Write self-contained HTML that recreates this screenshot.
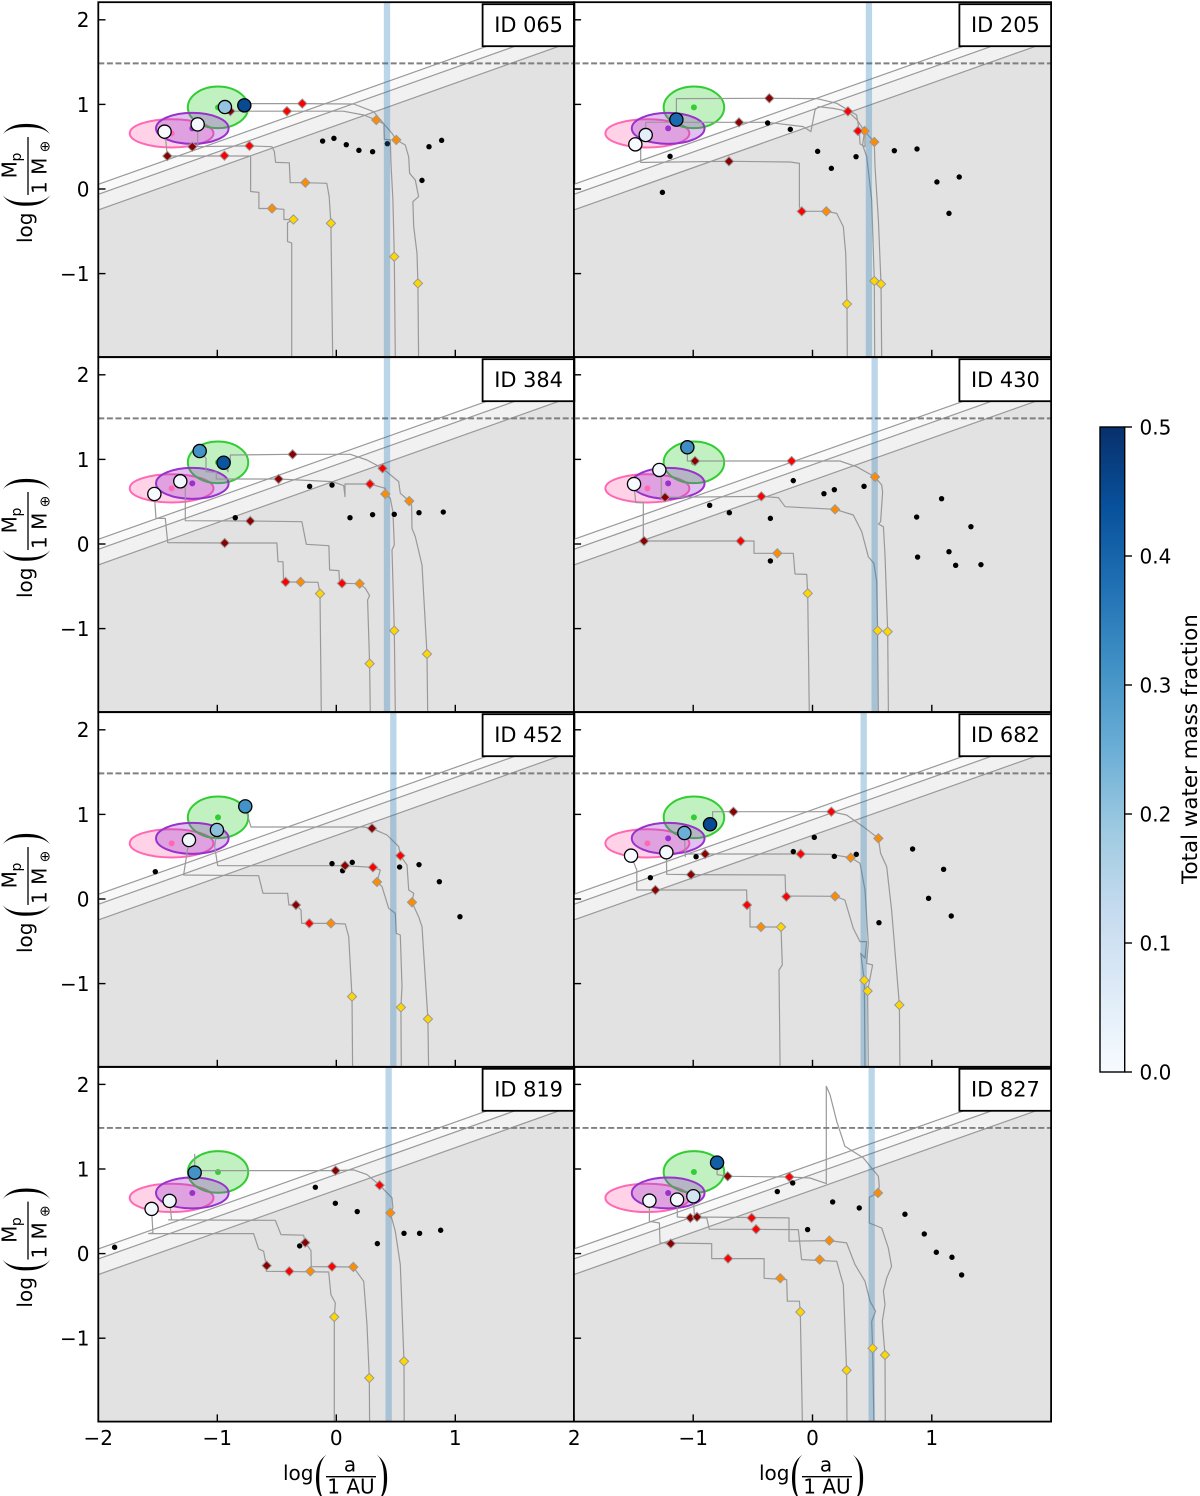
<!DOCTYPE html>
<html lang="en">
<head>
<meta charset="utf-8">
<title>Planet formation tracks</title>
<style>
html,body{margin:0;padding:0;background:#fff}
svg{display:block;font-family:"DejaVu Sans","Liberation Sans",sans-serif;fill:#000}
.paren{font-family:"Liberation Serif",serif;font-size:60px;stroke:#fff;stroke-width:2.4px}
</style>
</head>
<body>
<svg id="chart" xmlns="http://www.w3.org/2000/svg" width="1200" height="1496" viewBox="0 0 1200 1496">
<rect x="0" y="0" width="1200" height="1496" fill="#fff"/>
<g id="panels"></g>

<g transform="translate(28,189) rotate(-90)" font-size="20">
<text class="paren" x="-20.6" y="13">(</text><text class="paren" x="49" y="13">)</text><text x="-54" y="4">log</text><line x1="-6" x2="52" y1="0" y2="0" stroke="#000" stroke-width="1.3"/><text x="10.7" y="-11.3">M</text><text x="27.5" y="-7" font-size="14">p</text><text x="-5" y="18.7">1 M</text><text x="36.5" y="21.5" font-size="14">⊕</text>
</g>
<g transform="translate(28,544) rotate(-90)" font-size="20">
<text class="paren" x="-20.6" y="13">(</text><text class="paren" x="49" y="13">)</text><text x="-54" y="4">log</text><line x1="-6" x2="52" y1="0" y2="0" stroke="#000" stroke-width="1.3"/><text x="10.7" y="-11.3">M</text><text x="27.5" y="-7" font-size="14">p</text><text x="-5" y="18.7">1 M</text><text x="36.5" y="21.5" font-size="14">⊕</text>
</g>
<g transform="translate(28,899) rotate(-90)" font-size="20">
<text class="paren" x="-20.6" y="13">(</text><text class="paren" x="49" y="13">)</text><text x="-54" y="4">log</text><line x1="-6" x2="52" y1="0" y2="0" stroke="#000" stroke-width="1.3"/><text x="10.7" y="-11.3">M</text><text x="27.5" y="-7" font-size="14">p</text><text x="-5" y="18.7">1 M</text><text x="36.5" y="21.5" font-size="14">⊕</text>
</g>
<g transform="translate(28,1253.6) rotate(-90)" font-size="20">
<text class="paren" x="-20.6" y="13">(</text><text class="paren" x="49" y="13">)</text><text x="-54" y="4">log</text><line x1="-6" x2="52" y1="0" y2="0" stroke="#000" stroke-width="1.3"/><text x="10.7" y="-11.3">M</text><text x="27.5" y="-7" font-size="14">p</text><text x="-5" y="18.7">1 M</text><text x="36.5" y="21.5" font-size="14">⊕</text>
</g>

<g font-size="20">
<text class="paren" x="312.1" y="1493">(</text><text class="paren" x="371" y="1493">)</text><text x="283" y="1480">log</text><text x="350" y="1471.7" text-anchor="middle">a</text><line x1="326" x2="376" y1="1476.7" y2="1476.7" stroke="#000" stroke-width="1.3"/><text x="351" y="1493.3" text-anchor="middle">1 AU</text>
</g>
<g font-size="20" transform="translate(476,0)">
<text class="paren" x="312.1" y="1493">(</text><text class="paren" x="371" y="1493">)</text><text x="283" y="1480">log</text><text x="350" y="1471.7" text-anchor="middle">a</text><line x1="326" x2="376" y1="1476.7" y2="1476.7" stroke="#000" stroke-width="1.3"/><text x="351" y="1493.3" text-anchor="middle">1 AU</text>
</g>

<g id="colorbar"></g>
<text transform="translate(1197,749) rotate(-90)" text-anchor="middle" font-size="21.4">Total water mass fraction</text>
</svg>

<script>
// ---------- shared data ----------
const panelIds = ['ID 065','ID 205','ID 384','ID 430','ID 452','ID 682','ID 819','ID 827'];
const iceLines = [0.426,0.473,0.426,0.521,0.479,0.429,0.44,0.496];
const xTickValues = [-2,-1,0,1,2];
const yTickValues = [-1,0,1,2];
const colorbarTicks = [0,0.1,0.2,0.3,0.4,0.5];
const limitSlope = 0.5;
const limitIntercepts = [1.055,0.937,0.752];
const gasLimitMass = 1.485;
const regionNames = ['pink-region','green-region','purple-region'];
const regionCenterA = [-1.384,-0.994,-1.21];
const regionCenterM = [0.658,0.965,0.717];
const regionSemiA = [0.352,0.2535,0.305];
const regionSemiM = [0.167,0.246,0.183];
const blues = ['#f7fbff','#deebf7','#c6dbef','#9ecae1','#6baed6','#4292c6','#2171b5','#08519c','#08306b'];

// ---------- ID 065 ----------
const dots065 = [[-0.115,0.567],[-0.02,0.599],[0.084,0.524],[0.19,0.457],[0.305,0.441],[0.429,0.536],[0.779,0.5],[0.885,0.575],[0.72,0.102]];
const planets065 = [[-1.443,0.678,0],[-1.165,0.764,0.01],[-0.936,0.969,0.2],[-0.773,0.989,0.45]];
const tracks065 = [
 [[-1.44,0.68],[-1.42,0.39],[-0.94,0.39],[-0.72,0.39],[-0.72,-0.03],[-0.65,-0.04],[-0.65,-0.23],[-0.54,-0.23],[-0.44,-0.24],[-0.44,-0.36],[-0.36,-0.36],[-0.41,-0.4],[-0.41,-0.62],[-0.375,-0.64],[-0.375,-2]],
 [[-1.165,0.76],[-1.165,0.5],[-1.21,0.5],[-0.73,0.51],[-0.54,0.5],[-0.52,0.44],[-0.51,0.315],[-0.395,0.31],[-0.387,0.075],[-0.26,0.075],[-0.08,0.067],[-0.06,-0.09],[-0.045,-0.41],[-0.03,-2]],
 [[-0.936,0.97],[-0.93,0.92],[-0.415,0.92],[0.06,0.92],[0.23,0.875],[0.336,0.815],[0.4,0.77],[0.403,0.587],[0.454,0.58],[0.46,0.3],[0.476,-0.13],[0.487,-0.8],[0.496,-2]],
 [[-0.773,0.99],[-0.765,1.01],[-0.286,1.01],[0.146,1.005],[0.314,0.914],[0.4,0.77],[0.468,0.658],[0.504,0.58],[0.58,0.52],[0.608,0.38],[0.616,0.185],[0.664,0.106],[0.692,-0.09],[0.644,-0.15],[0.65,-0.445],[0.678,-0.76],[0.686,-1.115],[0.692,-2]]
];
const markers065 = [[-1.42,0.39,0],[-0.94,0.394,1],[-0.54,-0.23,2],[-0.36,-0.36,3],[-1.21,0.5,0],[-0.73,0.51,1],[-0.26,0.075,2],[-0.045,-0.405,3],[-0.89,0.92,0],[-0.415,0.92,1],[0.336,0.815,2],[0.487,-0.8,3],[-0.286,1.01,1],[0.504,0.58,2],[0.686,-1.115,3]];

// ---------- ID 205 ----------
const dots205 = [[-1.258,-0.04],[-1.194,0.386],[-0.376,0.78],[-0.186,0.705],[0.043,0.445],[0.158,0.244],[0.365,0.382],[0.686,0.453],[0.876,0.473],[1.043,0.083],[1.23,0.142],[1.144,-0.288]];
const planets205 = [[-1.485,0.528,0],[-1.398,0.638,0.05],[-1.141,0.82,0.39]];
const tracks205 = [
 [[-1.485,0.528],[-1.44,0.5],[-1.44,0.315],[-1.404,0.315],[-0.7,0.327],[-0.189,0.319],[-0.11,0.303],[-0.11,-0.21],[-0.09,-0.264],[0.116,-0.264],[0.203,-0.288],[0.258,-0.445],[0.278,-0.76],[0.289,-1.36],[0.292,-2]],
 [[-1.398,0.638],[-1.398,0.788],[-0.616,0.788],[-0.376,0.788],[-0.077,0.737],[-0.013,0.678],[0.021,0.934],[0.049,0.973],[0.175,0.953],[0.297,0.918],[0.37,0.823],[0.437,0.686],[0.42,0.52],[0.454,0.382],[0.496,-0.13],[0.518,-1.087],[0.521,-2]],
 [[-1.141,0.82],[-1.141,1.068],[-0.362,1.072],[0.035,1.068],[0.203,1.013],[0.37,0.875],[0.392,0.686],[0.398,0.532],[0.44,0.5],[0.44,0.678],[0.518,0.556],[0.524,0.264],[0.552,-0.366],[0.574,-1.123],[0.58,-2]]
];
const markers205 = [[-0.7,0.327,0],[-0.09,-0.264,1],[0.116,-0.264,2],[0.289,-1.36,3],[-0.616,0.788,0],[0.297,0.918,1],[0.437,0.686,2],[0.518,-1.087,3],[-0.362,1.072,0],[0.381,0.686,1],[0.518,0.556,2],[0.574,-1.123,3]];

// ---------- ID 384 ----------
const dots384 = [[-0.849,0.311],[-0.224,0.682],[-0.036,0.697],[0.115,0.311],[0.305,0.347],[0.487,0.351],[0.695,0.37],[0.899,0.378]];
const planets384 = [[-1.529,0.591,0],[-1.311,0.741,0.01],[-1.148,1.099,0.31],[-0.947,0.961,0.43]];
const tracks384 = [
 [[-1.529,0.591],[-1.515,0.303],[-1.437,0.303],[-1.417,0.016],[-0.938,0.012],[-0.499,0.012],[-0.49,-0.209],[-0.448,-0.209],[-0.443,-0.449],[-0.3,-0.449],[-0.154,-0.453],[-0.137,-0.587],[-0.126,-2]],
 [[-1.311,0.741],[-1.269,0.658],[-1.269,0.276],[-0.723,0.272],[-0.289,0.264],[-0.252,-0.004],[-0.062,-0.02],[-0.056,-0.307],[0.022,-0.315],[0.028,-0.465],[0.196,-0.469],[0.244,-0.524],[0.28,-0.61],[0.263,-0.662],[0.28,-1.414],[0.286,-2]],
 [[-1.148,1.099],[-1.095,1.013],[-1.095,0.855],[-1.008,0.847],[-1.008,0.768],[-0.485,0.768],[-0.036,0.737],[0.062,0.69],[0.073,0.56],[0.073,0.709],[0.283,0.709],[0.412,0.658],[0.412,0.591],[0.454,0.54],[0.476,0.382],[0.487,-0.012],[0.468,-0.07],[0.487,-1.024],[0.496,-2]],
 [[-0.947,0.961],[-0.91,0.855],[-0.91,0.961],[-0.891,0.961],[-0.891,1.052],[-0.367,1.06],[0.118,1.06],[0.258,0.993],[0.389,0.894],[0.524,0.737],[0.538,0.599],[0.613,0.508],[0.633,0.461],[0.636,0.185],[0.664,0.087],[0.72,-0.248],[0.762,-1.3],[0.768,-2]]
];
const markers384 = [[-0.938,0.012,0],[-0.426,-0.449,1],[-0.3,-0.449,2],[-0.137,-0.587,3],[-0.723,0.272,0],[0.048,-0.465,1],[0.196,-0.469,2],[0.28,-1.414,3],[-0.485,0.768,0],[0.283,0.709,1],[0.412,0.591,2],[0.487,-1.024,3],[-0.367,1.06,0],[0.389,0.894,1],[0.613,0.508,2],[0.762,-1.3,3]];

// ---------- ID 430 ----------
const dots430 = [[-0.862,0.457],[-0.697,0.37],[-0.353,0.303],[-0.353,-0.2],[-0.161,0.749],[0.096,0.595],[0.183,0.642],[0.432,0.682],[0.873,0.319],[1.082,0.536],[1.328,0.205],[0.881,-0.154],[1.144,-0.091],[1.2,-0.252],[1.412,-0.244]];
const planets430 = [[-1.496,0.709,0],[-1.284,0.875,0.01],[-1.049,1.143,0.32]];
const tracks430 = [
 [[-1.496,0.709],[-1.482,0.489],[-1.418,0.489],[-1.418,0.035],[-0.602,0.035],[-0.49,0.035],[-0.49,-0.11],[-0.161,-0.11],[-0.147,-0.355],[-0.049,-0.359],[-0.04,-0.583],[-0.027,-2]],
 [[-1.284,0.875],[-1.267,0.776],[-1.267,0.56],[-1.236,0.552],[-0.429,0.563],[-0.286,0.548],[-0.23,0.441],[0.189,0.41],[0.342,0.343],[0.412,0.146],[0.468,-0.15],[0.515,-0.229],[0.538,-0.445],[0.546,-1.024],[0.552,-2]],
 [[-1.049,1.143],[-1.049,0.981],[-0.985,0.981],[-0.175,0.981],[0.23,0.981],[0.37,0.914],[0.524,0.792],[0.58,0.697],[0.588,0.611],[0.571,0.264],[0.552,0.236],[0.594,0.205],[0.608,-0.13],[0.63,-1.036],[0.636,-2]]
];
const markers430 = [[-1.412,0.035,0],[-0.602,0.035,1],[-0.295,-0.11,2],[-0.04,-0.583,3],[-1.236,0.552,0],[-0.429,0.563,1],[0.189,0.41,2],[0.546,-1.024,3],[-0.985,0.981,0],[-0.175,0.981,1],[0.524,0.792,2],[0.63,-1.036,3]];

// ---------- ID 452 ----------
const dots452 = [[-1.521,0.323],[-0.036,0.418],[0.053,0.335],[0.134,0.433],[0.532,0.378],[0.695,0.406],[0.866,0.205],[1.039,-0.209]];
const planets452 = [[-1.238,0.697,0.02],[-1.003,0.816,0.21],[-0.765,1.095,0.31]];
const tracks452 = [
 [[-1.238,0.697],[-1.283,0.284],[-0.653,0.276],[-0.616,0.067],[-0.409,0.067],[-0.398,-0.071],[-0.339,-0.071],[-0.297,-0.13],[-0.291,-0.288],[-0.045,-0.288],[0.076,-0.296],[0.104,-0.445],[0.132,-1.154],[0.137,-2]],
 [[-1.003,0.816],[-1.022,0.619],[-0.997,0.394],[0.073,0.394],[0.308,0.374],[0.37,0.343],[0.342,0.201],[0.384,0.146],[0.44,-0.11],[0.496,-0.169],[0.504,-0.406],[0.538,-0.426],[0.552,-1.036],[0.543,-1.281],[0.546,-2]],
 [[-0.765,1.095],[-0.751,1.013],[-0.717,0.851],[0.23,0.851],[0.3,0.835],[0.426,0.757],[0.524,0.619],[0.538,0.512],[0.594,0.402],[0.608,0.106],[0.65,0.067],[0.636,-0.039],[0.692,-0.209],[0.72,-0.327],[0.77,-1.418],[0.776,-2]]
];
const markers452 = [[-0.339,-0.071,0],[-0.227,-0.288,1],[-0.045,-0.288,2],[0.132,-1.154,3],[0.073,0.394,0],[0.308,0.374,1],[0.342,0.201,2],[0.543,-1.281,3],[0.3,0.835,0],[0.538,0.512,1],[0.636,-0.039,2],[0.77,-1.418,3]];

// ---------- ID 682 ----------
const dots682 = [[-1.359,0.252],[-0.976,0.5],[-0.161,0.56],[0.015,0.729],[0.183,0.504],[0.367,0.528],[0.839,0.591],[1.099,0.351],[0.973,0.008],[1.163,-0.201],[0.557,-0.28]];
const planets682 = [[-1.521,0.512,0],[-1.225,0.552,0.01],[-1.074,0.78,0.25],[-0.859,0.883,0.45]];
const tracks682 = [
 [[-1.521,0.512],[-1.473,0.343],[-1.473,0.106],[-0.552,0.106],[-0.549,-0.071],[-0.524,-0.091],[-0.524,-0.331],[-0.264,-0.331],[-0.253,-0.78],[-0.281,-0.839],[-0.272,-2]],
 [[-1.225,0.552],[-1.222,0.292],[-1.018,0.288],[-0.23,0.284],[-0.225,0.035],[0.189,0.032],[0.272,-0.012],[0.342,-0.347],[0.398,-0.504],[0.454,-0.504],[0.44,-0.7],[0.404,-0.642],[0.434,-0.961],[0.44,-2]],
 [[-1.074,0.78],[-1.066,0.5],[-1.066,0.532],[-0.9,0.532],[-0.099,0.532],[0.147,0.528],[0.32,0.489],[0.398,0.422],[0.44,0.106],[0.468,-0.524],[0.454,-0.76],[0.504,-0.78],[0.462,-1.087],[0.468,-2]],
 [[-0.859,0.883],[-0.837,0.953],[-0.837,1.032],[-0.663,1.032],[0.158,1.032],[0.286,0.993],[0.426,0.855],[0.552,0.717],[0.571,0.54],[0.622,0.382],[0.663,-0.13],[0.728,-1.253],[0.733,-2]]
];
const markers682 = [[-1.317,0.106,0],[-0.549,-0.071,1],[-0.432,-0.331,2],[-0.264,-0.331,3],[-1.018,0.288,0],[-0.219,0.028,1],[0.189,0.032,2],[0.434,-0.961,3],[-0.9,0.532,0],[-0.099,0.532,1],[0.32,0.489,2],[0.462,-1.087,3],[-0.663,1.032,0],[0.158,1.032,1],[0.552,0.717,2],[0.728,-1.253,3]];

// ---------- ID 819 ----------
const dots819 = [[-1.863,0.075],[-0.308,0.091],[-0.176,0.784],[-0.008,0.595],[0.176,0.497],[0.345,0.118],[0.569,0.24],[0.7,0.24],[0.877,0.276]];
const planets819 = [[-1.552,0.528,0.01],[-1.401,0.623,0.02],[-1.19,0.957,0.31]];
const tracks819 = [
 [[-1.552,0.528],[-1.541,0.244],[-1.577,0.236],[-0.695,0.236],[-0.653,0.055],[-0.611,0.028],[-0.588,-0.142],[-0.588,-0.209],[-0.064,-0.217],[-0.045,-0.485],[-0.008,-0.583],[-0.017,-0.749],[-0.017,-2]],
 [[-1.401,0.623],[-1.384,0.398],[-1.409,0.398],[-0.513,0.394],[-0.465,0.225],[-0.275,0.217],[-0.261,0.13],[-0.213,0.035],[-0.21,-0.154],[0.143,-0.158],[0.23,-0.327],[0.258,-0.839],[0.277,-1.47],[0.28,-2]],
 [[-1.19,1.178],[-1.19,0.981],[-0.006,0.981],[0.146,0.989],[0.258,0.934],[0.364,0.808],[0.468,0.658],[0.476,0.54],[0.454,0.481],[0.496,0.264],[0.538,-0.13],[0.569,-1.273],[0.571,-2]]
];
const markers819 = [[-0.585,-0.142,0],[-0.395,-0.209,1],[-0.218,-0.209,2],[-0.017,-0.749,3],[-0.261,0.13,0],[-0.036,-0.154,1],[0.143,-0.158,2],[0.277,-1.47,3],[-0.006,0.981,0],[0.364,0.808,1],[0.454,0.481,2],[0.569,-1.273,3]];

// ---------- ID 827 ----------
const dots827 = [[-0.295,0.733],[-0.166,0.835],[0.169,0.611],[0.392,0.54],[0.775,0.465],[0.937,0.232],[1.038,0.016],[1.169,-0.043],[1.25,-0.252],[-0.041,0.284]];
const planets827 = [[-1.367,0.626,0.01],[-1.135,0.638,0.01],[-0.999,0.678,0.09],[-0.8,1.076,0.41]];
const tracks827 = [
 [[-1.367,0.626],[-1.367,0.382],[-1.283,0.362],[-1.278,0.126],[-0.845,0.118],[-0.845,-0.059],[-0.406,-0.059],[-0.406,-0.292],[-0.216,-0.307],[-0.211,-0.563],[-0.11,-0.563],[-0.102,-0.69],[-0.085,-2]],
 [[-1.135,0.638],[-1.133,0.433],[-1.024,0.422],[-0.887,0.422],[-0.865,0.288],[-0.119,0.284],[-0.091,-0.071],[0.203,-0.091],[0.258,-0.366],[0.286,-1.379],[0.289,-2]],
 [[-0.999,0.678],[-0.99,0.441],[-0.968,0.433],[-0.197,0.422],[-0.197,0.146],[0.141,0.154],[0.286,0.126],[0.356,-0.13],[0.44,-0.327],[0.482,-0.563],[0.529,-0.682],[0.496,-0.8],[0.504,-1.119],[0.515,-2]],
 [[-0.8,1.076],[-0.8,0.934],[-0.711,0.914],[-0.194,0.906],[-0.021,0.894],[0.116,0.827],[0.116,1.978],[0.147,1.88],[0.203,1.564],[0.272,1.269],[0.426,1.131],[0.552,0.914],[0.56,0.796],[0.549,0.717],[0.476,0.666],[0.476,0.362],[0.58,0.303],[0.635,0.067],[0.663,-0.15],[0.622,-0.288],[0.594,-0.445],[0.608,-0.603],[0.585,-0.8],[0.608,-1.198],[0.61,-2]]
];
const markers827 = [[-1.188,0.118,0],[-0.708,-0.059,1],[-0.27,-0.292,2],[-0.102,-0.69,3],[-1.024,0.422,0],[-0.473,0.288,1],[0.06,-0.071,2],[0.286,-1.379,3],[-0.968,0.433,0],[-0.51,0.422,1],[0.141,0.154,2],[0.504,-1.119,3],[-0.711,0.914,0],[-0.194,0.906,1],[0.549,0.717,2],[0.608,-1.198,3]];

const panelDots = [dots065,dots205,dots384,dots430,dots452,dots682,dots819,dots827];
const panelPlanets = [planets065,planets205,planets384,planets430,planets452,planets682,planets819,planets827];
const panelTracks = [tracks065,tracks205,tracks384,tracks430,tracks452,tracks682,tracks819,tracks827];
const panelMarkers = [markers065,markers205,markers384,markers430,markers452,markers682,markers819,markers827];

// ---------- axis functions ----------
const NS = 'http://www.w3.org/2000/svg';
const colZero = [336.3,812.5];
const colScale = [119,119.3];
const rowZero = [189,544,899,1253.6];
const yScaleFactor = 84.6;
function xAxis(col,a){ return colZero[col]+a*colScale[col]; }
function yAxis(row,m){ return rowZero[row]-m*yScaleFactor; }
function make(tag,attrs,parent){
  const e = document.createElementNS(NS,tag);
  for(const k in attrs){ e.setAttribute(k,attrs[k]); }
  parent.appendChild(e);
  return e;
}
function hexToRgb(h){ return [parseInt(h.slice(1,3),16),parseInt(h.slice(3,5),16),parseInt(h.slice(5,7),16)]; }
function waterColor(w){
  const t = Math.max(0,Math.min(1,w/0.5))*(blues.length-1);
  const i = Math.min(blues.length-2,Math.floor(t));
  const f = t-i;
  const p = hexToRgb(blues[i]);
  const q = hexToRgb(blues[i+1]);
  return 'rgb('+Math.round(p[0]+(q[0]-p[0])*f)+','+Math.round(p[1]+(q[1]-p[1])*f)+','+Math.round(p[2]+(q[2]-p[2])*f)+')';
}

const stageColors = ['#8b0000','#ff0000','#ff8c00','#ffd700'];
const stageNames = ['dark-red','red','orange','gold'];
const regionStrokes = ['#ff69b4','#32cd32','#9932cc'];
const regionOpacity = [0.3,0.3,0.3];
const shadeFills = ['#f9f9f9','#f1f1f1','#e2e2e2'];

const root = document.getElementById('panels');
const defs = make('defs',{},root);

panelIds.forEach(function(label,p){
  const col = p%2;
  const row = Math.floor(p/2);
  const left = xAxis(col,-2);
  const right = xAxis(col,2);
  const top = rowZero[row]-186.8;
  const bottom = rowZero[row]+168;
  const key = label.replace(/\D/g,'');

  const clip = make('clipPath',{id:'clip'+key},defs);
  make('rect',{x:left,y:top,width:right-left,height:bottom-top},clip);

  const g = make('g',{},root);
  
  
  const plot = make('g',{'clip-path':'url(#clip'+key+')'},g);
  
  

  // shaded exclusion regions beneath the three sloped limits
  limitIntercepts.forEach(function(c,i){
    const yl = yAxis(row,c+limitSlope*(-2));
    const yr = yAxis(row,c+limitSlope*2);
    const shade = make('polygon',{points:left+','+yl+' '+right+','+yr+' '+right+','+bottom+' '+left+','+bottom,fill:shadeFills[i]},plot);
    
    
  });
  limitIntercepts.forEach(function(c,i){
    const line = make('line',{x1:left,y1:yAxis(row,c+limitSlope*(-2)),x2:right,y2:yAxis(row,c+limitSlope*2),stroke:'#999',"stroke-width":1.2},plot);
    
    
  });

  // population regions
  regionNames.forEach(function(n,i){
    const ell = make('ellipse',{cx:xAxis(col,regionCenterA[i]),cy:yAxis(row,regionCenterM[i]),rx:regionSemiA[i]*colScale[col],ry:regionSemiM[i]*yScaleFactor,fill:regionStrokes[i],'fill-opacity':regionOpacity[i],stroke:regionStrokes[i],'stroke-width':2},plot);
    
    
  });
  regionNames.forEach(function(n,i){
    const c = make('circle',{cx:xAxis(col,regionCenterA[i]),cy:yAxis(row,regionCenterM[i]),r:3,fill:regionStrokes[i]},plot);
    
    
  });

  // formation tracks
  panelTracks[p].forEach(function(track,i){
    const pts = track.map(function(q){ return xAxis(col,q[0]).toFixed(1)+','+yAxis(row,q[1]).toFixed(1); }).join(' ');
    const line = make('polyline',{points:pts,fill:'none',stroke:'#999','stroke-width':1.2,'stroke-linejoin':'round'},plot);
    
    
  });

  // gas limit dashed line
  const dash = make('line',{x1:left,x2:right,y1:yAxis(row,gasLimitMass),y2:yAxis(row,gasLimitMass),stroke:'#808080','stroke-width':1.9,'stroke-dasharray':'6 2.6'},plot);
  
  

  // observed dots
  panelDots[p].forEach(function(q){
    const d = make('circle',{cx:xAxis(col,q[0]),cy:yAxis(row,q[1]),r:2.7,fill:'#000'},plot);
    
    
  });

  // ice line band
  const bx = xAxis(col,iceLines[p]);
  const band = make('rect',{x:bx-3.15,y:top,width:6.3,height:bottom-top,fill:'#1f77b4','fill-opacity':0.3},plot);
  
  

  // stage diamonds
  panelMarkers[p].forEach(function(q){
    const x = xAxis(col,q[0]);
    const y = yAxis(row,q[1]);
    const r = 4.6;
    const m = make('polygon',{points:x+','+(y-r)+' '+(x+r)+','+y+' '+x+','+(y+r)+' '+(x-r)+','+y,fill:stageColors[q[2]],stroke:'#999','stroke-width':1},plot);
    
    
  });

  // seed planets coloured by water fraction
  panelPlanets[p].forEach(function(q){
    const c = make('circle',{cx:xAxis(col,q[0]),cy:yAxis(row,q[1]),r:6.6,fill:waterColor(q[2]),stroke:'#000','stroke-width':1.3},plot);
    
    
  });

  // ticks
  xTickValues.forEach(function(v){
    const x = xAxis(col,v);
    const t = make('line',{x1:x,x2:x,y1:bottom,y2:bottom-7.2,stroke:'#000','stroke-width':1.4},g);
    
    
  });
  yTickValues.forEach(function(v){
    const y = yAxis(row,v);
    const t = make('line',{x1:left,x2:left+7.2,y1:y,y2:y,stroke:'#000','stroke-width':1.4},g);
    
    
    if(col===0){
      const lab = make('text',{x:left-8.8,y:y+7.4,'text-anchor':'end','font-size':20},g);
      
      
      lab.textContent = String(v).replace('-','\u2212');
    }
  });
  if(row===3){
    xTickValues.forEach(function(v){
      if(col===1 && (v===-2 || v===2)){ return; }
      const lab = make('text',{x:xAxis(col,v),y:1445,'text-anchor':'middle','font-size':20},g);
      
      
      lab.textContent = String(v).replace('-','\u2212');
    });
  }

  // frame
  const frame = make('rect',{x:left,y:top,width:right-left,height:bottom-top,fill:'none',stroke:'#000','stroke-width':1.8},g);
  
  

  // id box
  const boxLeft = right-91.7;
  const box = make('rect',{x:boxLeft,y:top+2,width:91.7,height:42,fill:'#fff',stroke:'#000','stroke-width':1.8},g);
  
  
  const idText = make('text',{x:boxLeft+46,y:top+29.6,'text-anchor':'middle','font-size':20.9},g);
  
  
  idText.textContent = label;
});

// ---------- colorbar ----------
const cb = document.getElementById('colorbar');
const cbDefs = make('defs',{},cb);
const grad = make('linearGradient',{id:'bluesGradient',x1:0,y1:1,x2:0,y2:0},cbDefs);
blues.forEach(function(c,i){ make('stop',{offset:i/(blues.length-1),'stop-color':c},grad); });
const cbTop = 427;
const cbBottom = 1072;
function cbAxis(w){ return cbBottom-(w/0.5)*(cbBottom-cbTop); }
const cbRect = make('rect',{x:1100,y:cbTop,width:24.7,height:cbBottom-cbTop,fill:'url(#bluesGradient)',stroke:'#000','stroke-width':1.4},cb);


colorbarTicks.forEach(function(v){
  const y = cbAxis(v);
  const t = make('line',{x1:1124.7,x2:1132,y1:y,y2:y,stroke:'#000','stroke-width':1.4},cb);
  
  
  const lab = make('text',{x:1139.5,y:y+7.4,'font-size':20},cb);
  
  
  lab.textContent = v.toFixed(1);
});
</script>
</body>
</html>
